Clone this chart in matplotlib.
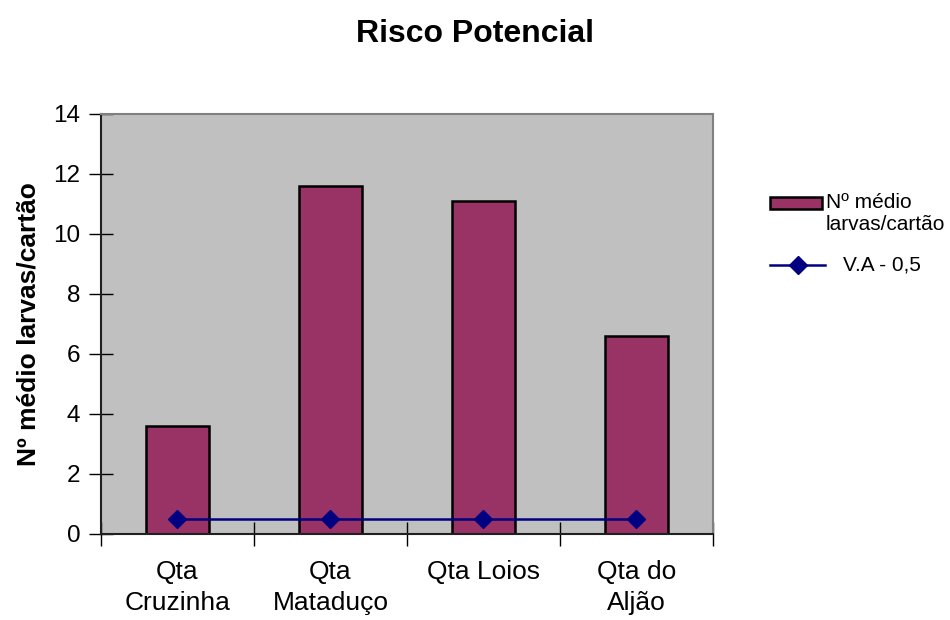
import matplotlib.pyplot as plt
from matplotlib.lines import Line2D
from matplotlib.patches import Rectangle

plt.rcParams['font.family'] = ['Liberation Sans', 'DejaVu Sans']

# data
locais = ["Qta\nCruzinha", "Qta\nMataduço", "Qta Loios", "Qta do\nAljão"]
larvas = [3.6, 11.6, 11.1, 6.6]
va = [0.5, 0.5, 0.5, 0.5]

cor_barra = "#993366"
cor_linha = "#000080"

fig = plt.figure(figsize=(9.5, 6.2), dpi=100)
ax = fig.add_axes([0.1063, 0.1395, 0.6442, 0.6771])
ax.set_facecolor("#C0C0C0")

x = range(len(locais))
ax.bar(x, larvas, width=0.41, color=cor_barra, edgecolor="black", linewidth=1.8, zorder=2)
ax.plot(x, va, color=cor_linha, linewidth=1.8, marker="D", markersize=9, zorder=3)

ax.set_xlim(-0.5, 3.5)
ax.set_ylim(0, 14)
ax.set_yticks(range(0, 15, 2))
ax.set_xticks([i - 0.5 for i in range(5)])
ax.set_xticklabels([])
ax.set_xticks(list(x), minor=True)
ax.set_xticklabels(locais, minor=True, fontsize=19, linespacing=1.35)
ax.tick_params(axis="x", which="minor", length=0, pad=19)
ax.tick_params(axis="x", which="major", direction="inout", length=17, width=1, color="black")
ax.tick_params(axis="y", direction="inout", length=17, width=1, labelsize=17.5, pad=6.5)

for s in ["top", "right"]:
    ax.spines[s].set_color("#808080")
    ax.spines[s].set_linewidth(1.5)
for s in ["left", "bottom"]:
    ax.spines[s].set_color("#202020")
    ax.spines[s].set_linewidth(1.5)

ax.set_ylabel("Nº médio larvas/cartão", fontsize=19, fontweight="bold", labelpad=9)
fig.text(0.5, 0.945, "Risco Potencial", fontsize=23, fontweight="bold",
         ha="center", va="center")

# legenda
fig.patches.append(Rectangle((0.8105, 0.6629), 0.0547, 0.0194, transform=fig.transFigure,
                             facecolor=cor_barra, edgecolor="black", linewidth=1.8))
fig.text(0.8695, 0.6887, "Nº médio\nlarvas/cartão", fontsize=15, ha="left", va="top",
         linespacing=1.2)
fig.lines.append(Line2D([0.8105, 0.8684], [0.5726, 0.5726], transform=fig.transFigure,
                        color=cor_linha, linewidth=1.8))
fig.lines.append(Line2D([0.8395], [0.5726], transform=fig.transFigure,
                        color=cor_linha, marker="D", markersize=9))
fig.text(0.8874, 0.5726, "V.A - 0,5", fontsize=15, ha="left", va="center")

fig.savefig("out.png", dpi=100)
